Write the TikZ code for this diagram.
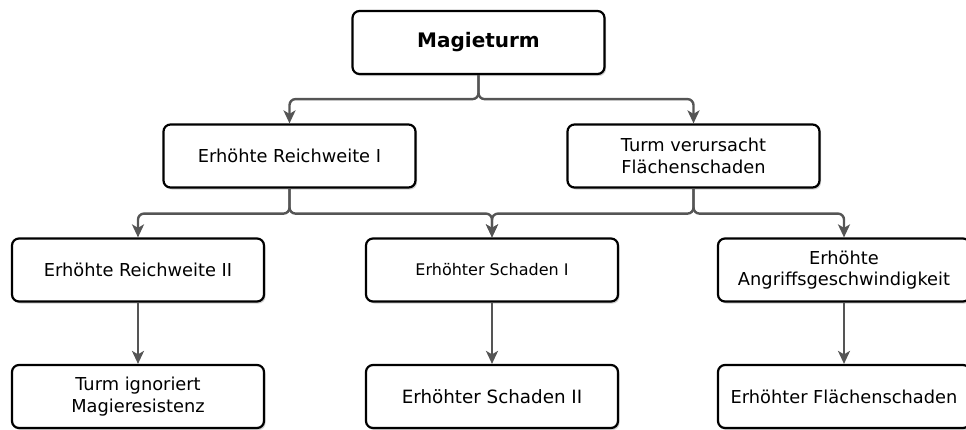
\documentclass[tikz,border=0pt]{standalone}
\usepackage{fontspec}
\setmainfont{DejaVu Sans}
\usetikzlibrary{arrows.meta,shadows}
\definecolor{conn}{HTML}{555555}
\tikzset{
  box/.style={draw=black, line width=2.2pt, rounded corners=7pt, fill=white,
    minimum width=252pt, minimum height=63pt, align=center, inner sep=2pt,
    font=\fontsize{17.8pt}{21.5pt}\selectfont,
    drop shadow={shadow xshift=1.5pt, shadow yshift=-2pt, fill=black!30, opacity=0.6}},
  conn/.style={draw=conn, line width=2.4pt, rounded corners=6pt,
    -{Stealth[length=13pt,width=12pt,inset=3.5pt]}},
}
\begin{document}
\begin{tikzpicture}[x=1pt,y=-1pt]
\useasboundingbox (0,0) rectangle (966,429);
\node[box, font=\fontsize{20pt}{24pt}\selectfont\bfseries] (top) at (478.5,42.5) {Magieturm};
\node[box] (r1) at (289.5,156) {Erhöhte Reichweite I};
\node[box] (r2) at (693.5,156) {Turm verursacht\\Flächenschaden};
\node[box] (a) at (138,270) {Erhöhte Reichweite II};
\node[box, font=\fontsize{16pt}{19pt}\selectfont] (b) at (492,270) {Erhöhter Schaden I};
\node[box] (c) at (844,270) {Erhöhte\\Angriffsgeschwindigkeit};
\node[box] (a2) at (138,396.5) {Turm ignoriert\\Magieresistenz};
\node[box, font=\fontsize{18.3pt}{22pt}\selectfont] (b2) at (492,396.5) {Erhöhter Schaden II};
\node[box] (c2) at (844,396.5) {Erhöhter Flächenschaden};
\draw[conn] (top.south) |- ++(0,24) -| (r1.north);
\draw[conn] (top.south) |- ++(0,24) -| (r2.north);
\draw[conn] (r1.south) |- ++(0,25) -| (a.north);
\draw[conn] (r1.south) |- ++(0,25) -| (b.north);
\draw[conn] (r2.south) |- ++(0,25) -| (b.north);
\draw[conn] (r2.south) |- ++(0,25) -| (c.north);
\draw[conn] (a.south) -- (a2.north);
\draw[conn] (b.south) -- (b2.north);
\draw[conn] (c.south) -- (c2.north);
\end{tikzpicture}
\end{document}
